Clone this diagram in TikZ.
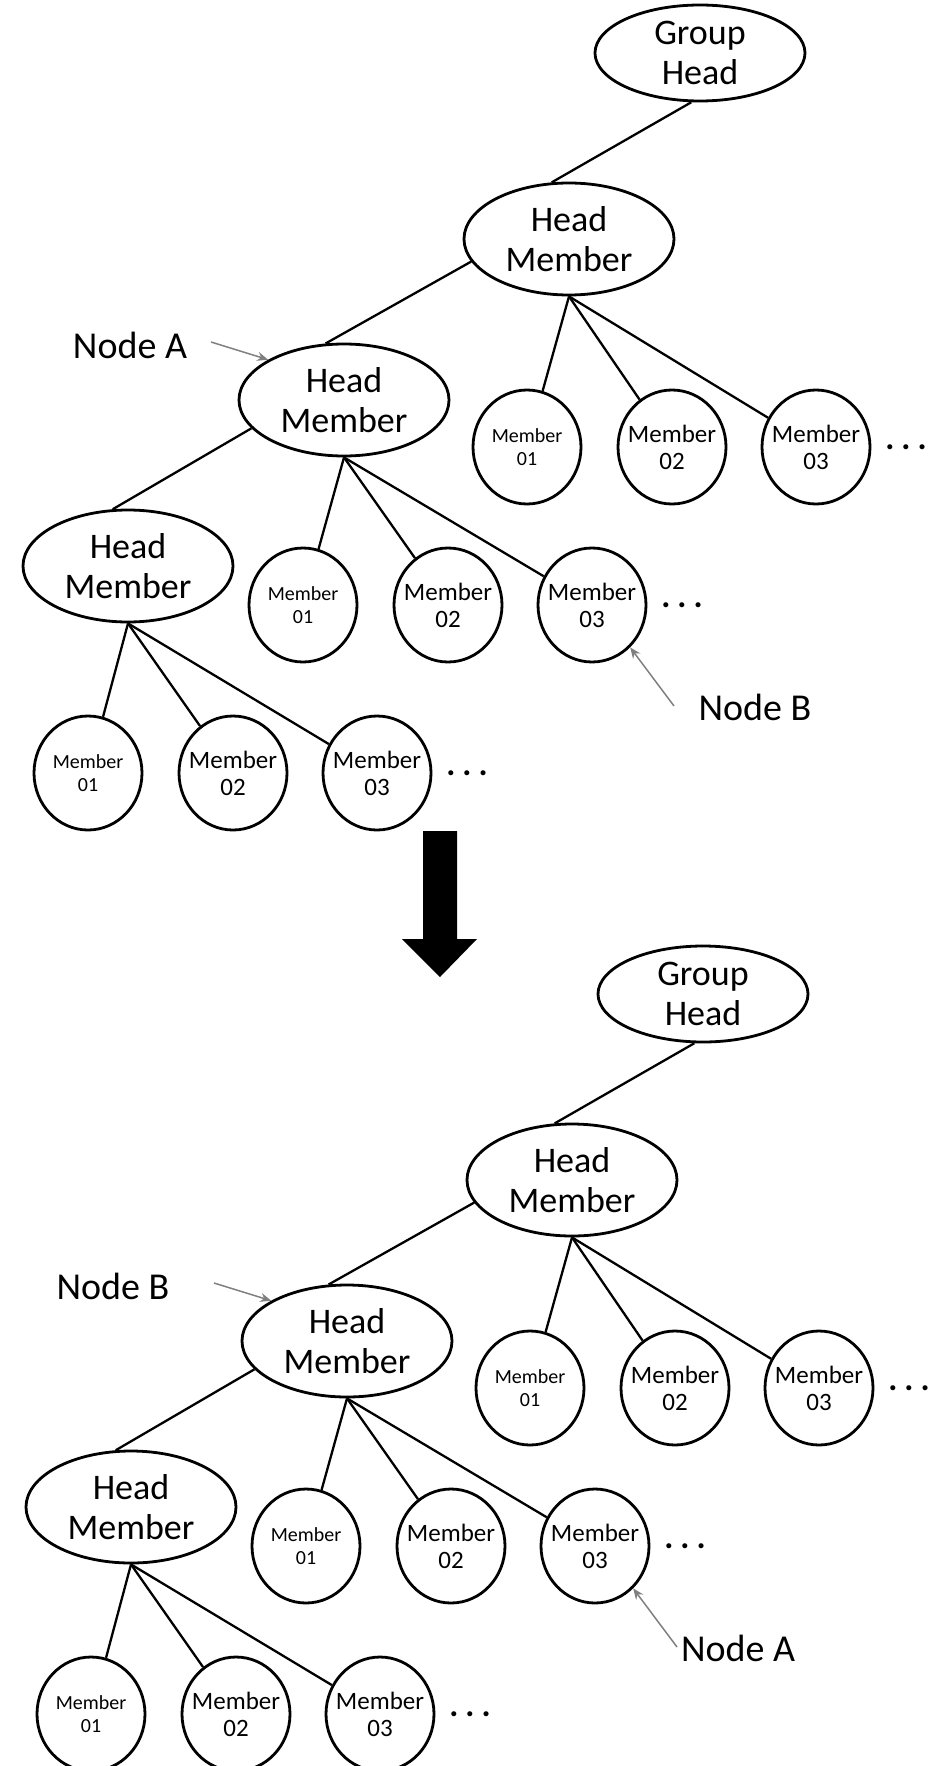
\documentclass[tikz,border=0pt]{standalone}
\usepackage{fontspec}
\setmainfont{Carlito}
\usepackage{tikz}
\usetikzlibrary{arrows.meta}
\usetikzlibrary{shapes.geometric}
\tikzset{
x=1pt, y=-1pt, % one unit is one pixel of the layout, y grows downwards
>={Stealth[length=11pt,width=9pt]}, % arrow heads of the pointers
head/.style={draw, ellipse, line width=2.8pt, minimum width=210pt, minimum height=112pt, inner sep=0pt, align=center, font=\fontsize{36}{40}\selectfont}, % head members
member/.style={draw, ellipse, line width=2.8pt, minimum width=108pt, minimum height=114pt, inner xsep=-8pt, inner ysep=0pt, align=center, font=\fontsize{25}{27}\selectfont}, % ordinary members
small member/.style={member, font=\fontsize{20}{23}\selectfont}, % first member is written smaller
link/.style={line width=2.3pt}, % tree edges
pointer/.style={->, gray, line width=1.5pt}, % arrows from the node labels
note/.style={font=\fontsize{38}{42}\selectfont, inner sep=0pt}, % Node A, Node B
more/.style={font=\fontsize{34}{36}\selectfont\bfseries, inner sep=0pt}, % the dots
}

\begin{document}
\begin{tikzpicture}
\useasboundingbox (0,0) rectangle (931,1766);

% the same tree before and after the swap
\foreach \t/\dx/\dy/\la/\lb/\xa/\xb in {1/0/0/Node A/Node B/130/755, 2/3/941/Node B/Node A/110/735}{
\begin{scope}[shift={(\dx,\dy)}]
    \node[head, minimum height=96pt] (gh\t) at (700,53) {Group\\Head};
    \node[head] (hma\t) at (569,239) {Head\\Member};
    \node[head] (hmb\t) at (344,400) {Head\\Member};
    \node[head] (hmc\t) at (128,566) {Head\\Member};

    \draw[link] (gh\t.-100) -- (hma\t.107);
    \draw[link] (hma\t.193) -- (hmb\t.108);
    \draw[link] (hmb\t.197) -- (hmc\t.105);

    % members of each head
    \foreach \r/\x/\y in {a/527/447, b/303/605, c/88/773}{
        \foreach \i/\o/\s in {1/0/small member, 2/145/member, 3/289/member}{
            \node[\s] (m\r\i-\t) at (\x+\o,\y) {Member\\0\i};
            \draw[link] (hm\r\t.south) -- (m\r\i-\t);
        }
        \node[more] (dots\r\t) at (\x+379,\y) {.\hspace{7pt}.\hspace{7pt}.};
    }

    \node[note] (la\t) at (\xa,345) {\la};
    \coordinate (pa\t) at (211,342);
    \draw[pointer] (pa\t) -- (hmb\t.152);

    \node[note] (lb\t) at (\xb,707) {\lb};
    \coordinate (pb\t) at (674,706);
    \draw[pointer] (pb\t) -- (mb3-\t.-48);
\end{scope}
}

% big arrow between the two trees
\fill (423,831) -- (457,831) -- (457,939) -- (477,939) -- (440,977) -- (402,939) -- (423,939) -- cycle;
\end{tikzpicture}
\end{document}
